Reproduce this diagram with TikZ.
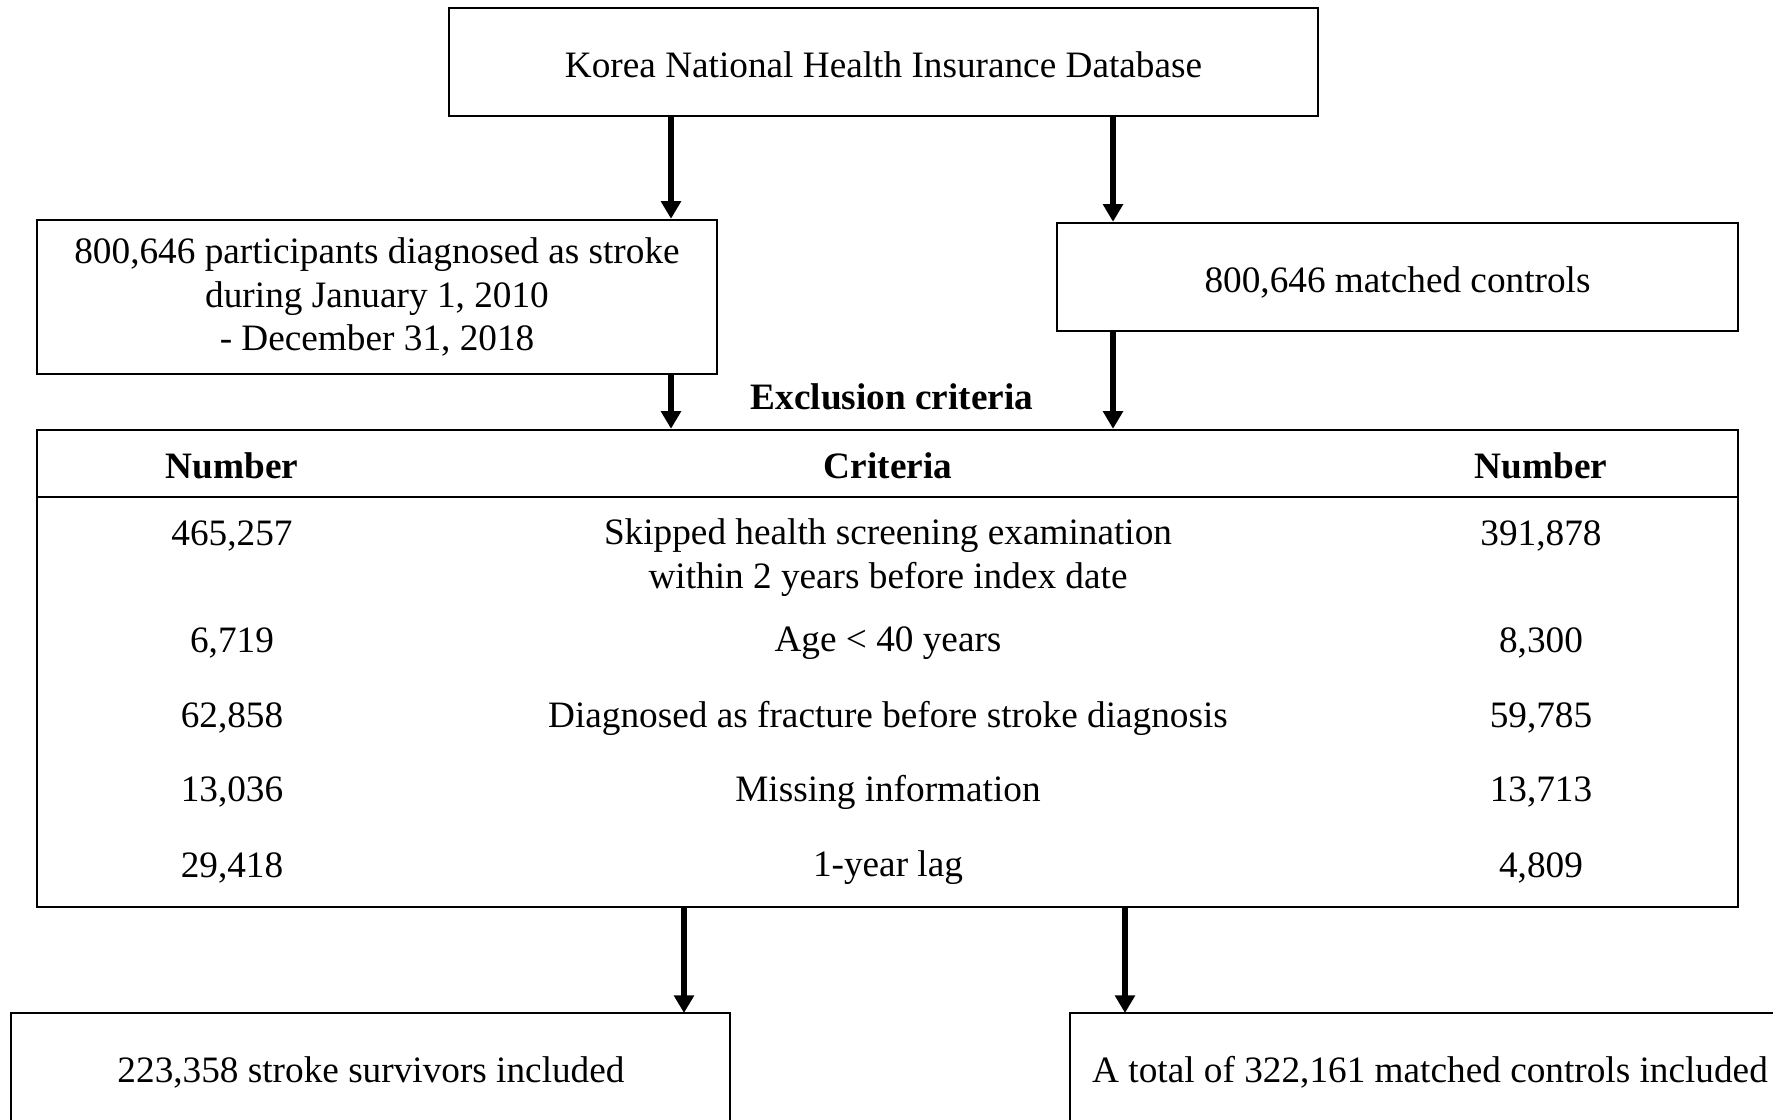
\documentclass[tikz,border=0pt]{standalone}
\usepackage{fontspec}
\setmainfont{Liberation Serif}
\usepackage{tikz}
\usetikzlibrary{arrows.meta,positioning}

\tikzset{
  box/.style={draw, line width=0.7pt, inner sep=0pt, align=center},
  arr/.style={line width=1.9pt, -{Triangle[length=5pt,width=5.5pt]}},
  cell/.style={inner sep=0pt, align=center}
}

\begin{document}
\begin{tikzpicture}[font=\fontsize{10.6}{12.5}\selectfont]
\useasboundingbox (0,0) rectangle (17.73,11.19);
\clip (0,0) rectangle (17.73,11.19);

% source and the two groups
\node[box, minimum width=8.69cm, minimum height=1.08cm, text height=0.31cm, text depth=0cm] (db) at (8.835,10.57) {Korea National Health Insurance Database};
\node[box, minimum width=6.80cm, minimum height=1.54cm] (stroke) at (3.77,8.22)
  {800,646 participants diagnosed as stroke\\during January 1, 2010\\- December 31, 2018};
\node[box, minimum width=6.81cm, minimum height=1.08cm, text height=0.31cm, text depth=0cm] (ctrl) at (13.975,8.42) {800,646 matched controls};

% exclusion table
\node[font=\fontsize{10.6}{12.5}\bfseries] (extitle) at (8.92,7.22) {Exclusion criteria};
\node[box, minimum width=17.01cm, minimum height=4.77cm] (tbl) at (8.875,4.505) {};
\draw[line width=0.7pt] (tbl.west |- 0,6.22) -- (tbl.east |- 0,6.22);

\node[cell, font=\fontsize{10.6}{12.5}\bfseries] (hnum1) at (2.32,6.53) {Number};
\node[cell, font=\fontsize{10.6}{12.5}\bfseries] (hcrit) at (8.88,6.53) {Criteria};
\node[cell, font=\fontsize{10.6}{12.5}\bfseries] (hnum2) at (15.41,6.53) {Number};

\node[cell] (a1) at (2.32,5.83) {465,257};
\node[cell] (c1) at (8.88,5.61) {Skipped health screening examination\\within 2 years before index date};
\node[cell] (b1) at (15.41,5.83) {391,878};

\node[cell] (a2) at (2.32,4.76) {6,719};
\node[cell] (c2) at (8.88,4.76) {Age < 40 years};
\node[cell] (b2) at (15.41,4.76) {8,300};

\node[cell] (a3) at (2.32,4.01) {62,858};
\node[cell] (c3) at (8.88,4.01) {Diagnosed as fracture before stroke diagnosis};
\node[cell] (b3) at (15.41,4.01) {59,785};

\node[cell] (a4) at (2.32,3.27) {13,036};
\node[cell] (c4) at (8.88,3.27) {Missing information};
\node[cell] (b4) at (15.41,3.27) {13,713};

\node[cell] (a5) at (2.32,2.51) {29,418};
\node[cell] (c5) at (8.88,2.51) {1-year lag};
\node[cell] (b5) at (15.41,2.51) {4,809};

% final cohorts
\draw[line width=0.7pt] (0.11,-0.5) rectangle (7.30,1.06);
\node (survivors) at (3.71,0.47) {223,358 stroke survivors included};
\draw[line width=0.7pt] (10.70,-0.5) rectangle (18.5,1.06);
\node (controls) at (14.30,0.47) {A total of 322,161 matched controls included};
\coordinate (survtop) at (6.84,1.06);
\coordinate (ctrltop) at (11.25,1.06);

% arrows
\draw[arr] (db.south -| 6.71,0) -- (stroke.north -| 6.71,0);
\draw[arr] (db.south -| 11.13,0) -- (ctrl.north -| 11.13,0);
\draw[arr] (stroke.south -| 6.71,0) -- (tbl.north -| 6.71,0);
\draw[arr] (ctrl.south -| 11.13,0) -- (tbl.north -| 11.13,0);
\draw[arr] (tbl.south -| survtop) -- (survtop);
\draw[arr] (tbl.south -| ctrltop) -- (ctrltop);
\end{tikzpicture}
\end{document}
